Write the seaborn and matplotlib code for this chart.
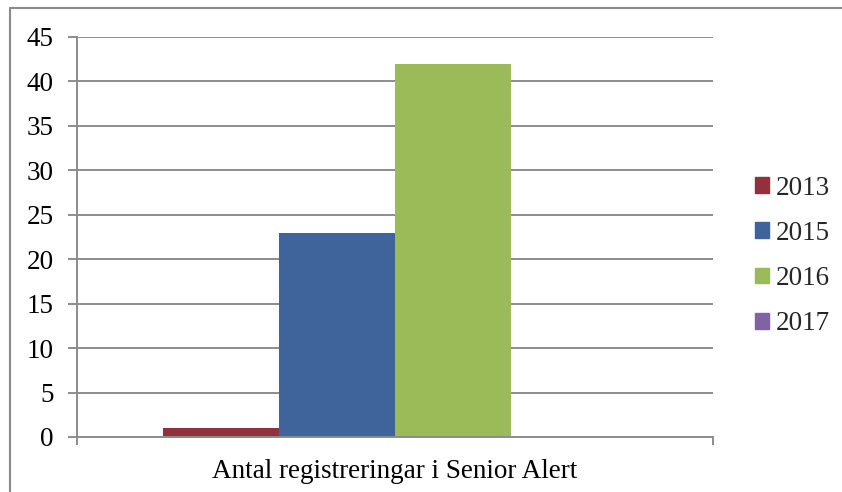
import matplotlib
matplotlib.use("Agg")
import matplotlib.pyplot as plt
import matplotlib.patches as mpatches
import pandas as pd
import seaborn as sns

category = ["Antal registreringar i Senior Alert"]
years = ["2013", "2015", "2016", "2017"]
counts = [1, 23, 42, 0]
colors = ["#93303D", "#3F649B", "#9BBB59", "#8064A2"]

df = pd.DataFrame({
    "kategori": category * len(years),
    "år": years,
    "antal": counts,
})

sns.set_theme(style="white")
plt.rcParams["font.family"] = ["Liberation Serif", "DejaVu Serif"]

grid_col = "#8C8C8C"
fs = 19.5

fig = plt.figure(figsize=(8.42, 4.92), dpi=100)
ax = fig.add_axes([77 / 842, 1 - 437 / 492, (713 - 77) / 842, (437 - 37) / 492])

sns.barplot(data=df, x="kategori", y="antal", hue="år", palette=colors,
            width=0.728, gap=0, saturation=1, ax=ax, legend=False,
            edgecolor="none", linewidth=0, errorbar=None)

ax.set_xlim(-0.5, 0.5)
ax.set_ylim(0, 45)
ax.set_yticks(range(0, 46, 5))
ax.yaxis.grid(True, color=grid_col, linewidth=1.4)
ax.set_axisbelow(True)
ax.set_xlabel("")
ax.set_ylabel("")

for side in ("top", "right"):
    ax.spines[side].set_visible(False)
for side in ("left", "bottom"):
    ax.spines[side].set_color(grid_col)
    ax.spines[side].set_linewidth(1.4)

ax.tick_params(axis="y", which="major", direction="out", length=6.5, width=1.4,
               color=grid_col, labelsize=fs, labelcolor="black", pad=10.5, left=True)
ax.tick_params(axis="x", which="major", length=0, labelsize=fs,
               labelcolor="black", pad=16)
ax.set_xticks([-0.5, 0.5], minor=True)
ax.tick_params(axis="x", which="minor", direction="out", length=6, width=1.4,
               color=grid_col, bottom=True)

handles = [mpatches.Patch(color=c, label=y) for y, c in zip(years, colors)]
fig.legend(handles=handles, loc="center left", bbox_to_anchor=(744 / 842, 1 - 256 / 492),
           frameon=False, fontsize=fs, handlelength=0.52, handleheight=0.52,
           handletextpad=0.26, labelspacing=0.75, borderaxespad=0)

# outer chart frame
frame_col = "#8A8A8A"
fig.add_artist(plt.Line2D([10 / 842, 10 / 842], [0, 1 - 7.5 / 492],
                          transform=fig.transFigure, color=frame_col, linewidth=1.5))
fig.add_artist(plt.Line2D([10 / 842, 1], [1 - 7.5 / 492, 1 - 7.5 / 492],
                          transform=fig.transFigure, color=frame_col, linewidth=1.5))

fig.savefig("out.png", dpi=100)
